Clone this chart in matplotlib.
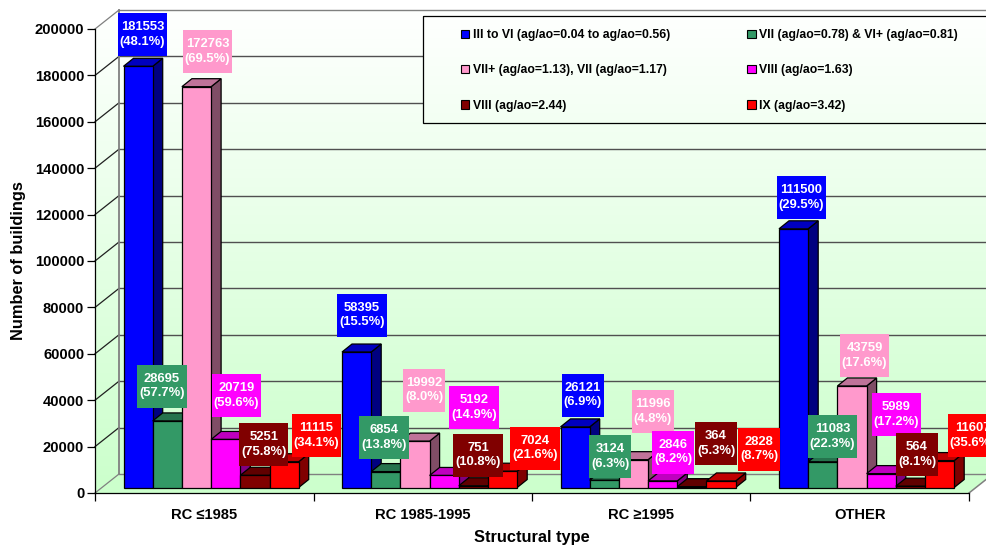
import matplotlib

matplotlib.use("Agg")
import matplotlib.pyplot as plt
import numpy as np
from matplotlib.colors import LinearSegmentedColormap, to_rgb
from matplotlib.patches import Patch, Polygon, Rectangle
from matplotlib.transforms import Affine2D, IdentityTransform

plt.rcParams["font.family"] = ["Liberation Sans", "DejaVu Sans"]
plt.rcParams["font.weight"] = "bold"

categories = ["RC ≤1985", "RC 1985-1995", "RC ≥1995", "OTHER"]
series_names = [
    "III to VI (ag/ao=0.04 to ag/ao=0.56)",
    "VII (ag/ao=0.78) & VI+ (ag/ao=0.81)",
    "VII+ (ag/ao=1.13), VII (ag/ao=1.17)",
    "VIII (ag/ao=1.63)",
    "VIII (ag/ao=2.44)",
    "IX (ag/ao=3.42)",
]
colors = ["#0000FF", "#339966", "#FF99CC", "#FF00FF", "#800000", "#FF0000"]

counts_3_6 = [181553, 58395, 26121, 111500]
counts_7 = [28695, 6854, 3124, 11083]
counts_7p = [172763, 19992, 11996, 43759]
counts_8a = [20719, 5192, 2846, 5989]
counts_8b = [5251, 751, 364, 564]
counts_9 = [11115, 7024, 2828, 11607]
counts = [counts_3_6, counts_7, counts_7p, counts_8a, counts_8b, counts_9]

pct_3_6 = [48.1, 15.5, 6.9, 29.5]
pct_7 = [57.7, 13.8, 6.3, 22.3]
pct_7p = [69.5, 8.0, 4.8, 17.6]
pct_8a = [59.6, 14.9, 8.2, 17.2]
pct_8b = [75.8, 10.8, 5.3, 8.1]
pct_9 = [34.1, 21.6, 8.7, 35.6]
pcts = [pct_3_6, pct_7, pct_7p, pct_8a, pct_8b, pct_9]

# label box centres in image pixels, one row per series
label_pos = [
    [(142.5, 34.5), (362, 315), (583, 395), (801.5, 197.5)],
    [(162, 386), (384, 437.5), (610, 456.5), (832.5, 436.5)],
    [(207.5, 51.5), (424, 390), (653, 411.5), (864.5, 355.5)],
    [(236.5, 395.5), (474, 407.5), (673, 452), (896.5, 414.5)],
    [(263.7, 444.5), (478, 455), (716, 443.5), (917, 454.5)],
    [(316.5, 435.5), (535, 448), (759, 449), (972.5, 435.5)],
]

W, H = 987, 549
LEFT, RIGHT, TOP, BOTTOM = 95, 969, 29, 493
WALL_DX, WALL_DY = 24, 19
BAR_SHIFT = (7, 5.5)
BAR_DX, BAR_DY = 10, 8
BAR_W = 29.2 / 218.5
BAR_MARGIN = 21.5 / 218.5

fig = plt.figure(figsize=(W / 100, H / 100), dpi=100)

# pixel coordinates of the image, y going down
px = Affine2D().scale(1, -1).translate(0, H)

bg = fig.add_axes([0, 0, 1, 1], zorder=0)
bg.set_xlim(0, W)
bg.set_ylim(H, 0)
bg.axis("off")

ax = fig.add_axes(
    [LEFT / W, (H - BOTTOM) / H, (RIGHT - LEFT) / W, (BOTTOM - TOP) / H], zorder=1
)
ax.patch.set_visible(False)
ax.set_xlim(0, 4)
ax.set_ylim(0, 200000)


def to_disp(x, y, dx=0, dy=0):
    p = ax.transData.transform((x, y))
    return (p[0] + dx, p[1] + dy)


# walls and floor share one vertical gradient
green = LinearSegmentedColormap.from_list("wall", ["#FFFFFF", "#CCFFCC"])
grad = np.linspace(0, 1, 256).reshape(-1, 1)
wall_top = TOP - WALL_DY
wall_bot = BOTTOM - WALL_DY
grad_extent = (0, W, BOTTOM - 8, wall_top)


def gradient_patch(patch, z):
    bg.add_patch(patch)
    im = bg.imshow(grad, cmap=green, extent=grad_extent, aspect="auto", zorder=z)
    im.set_clip_path(patch)


right_back = RIGHT + WALL_DX
wall = Polygon(
    [
        (LEFT, TOP),
        (LEFT + WALL_DX, wall_top),
        (right_back, wall_top),
        (right_back, wall_bot),
        (LEFT + WALL_DX, wall_bot),
        (LEFT, BOTTOM),
    ],
    fc="none",
    ec="none",
)
gradient_patch(wall, 1)
bg.add_patch(
    Polygon(
        [(LEFT, BOTTOM), (LEFT + WALL_DX, wall_bot), (right_back, wall_bot), (RIGHT, BOTTOM)],
        fc="#CCFFCC",
        ec="none",
        zorder=1.5,
    )
)
bg.add_patch(
    Polygon(
        [(LEFT, BOTTOM - 8), (LEFT + WALL_DX, BOTTOM - 8), (LEFT + WALL_DX, wall_bot), (LEFT, BOTTOM)],
        fc="#CCFFCC",
        ec="none",
        zorder=1.5,
    )
)
bg.set_xlim(0, W)
bg.set_ylim(H, 0)

# gridlines: back wall plus the diagonal on the side wall
for t in np.arange(0, 200001, 20000):
    y = BOTTOM - (BOTTOM - TOP) * t / 200000
    edge = t in (0, 200000)
    c = "#808080" if edge else "#505050"
    bg.plot([LEFT + WALL_DX, right_back], [y - WALL_DY] * 2, c=c, lw=1.0, zorder=2)
    bg.plot(
        [LEFT, LEFT + WALL_DX],
        [y, y - WALL_DY],
        c="#808080" if edge else "#202020",
        lw=0.9,
        zorder=2,
    )
bg.plot([LEFT + WALL_DX] * 2, [wall_top, wall_bot], c="#808080", lw=1.3, zorder=2)
bg.plot([RIGHT, right_back], [BOTTOM, wall_bot], c="#808080", lw=1.1, zorder=2)

# legend box
box = Rectangle((423, 15.5), W, 107.5, fc="none", ec="none")
bg.add_patch(box)
im = bg.imshow(grad, cmap=green, extent=grad_extent, aspect="auto", zorder=3)
im.set_clip_path(box)
bg.add_patch(Rectangle((423, 15.5), W, 107.5, fc="none", ec="k", lw=0.9, zorder=3.5))
bg.set_xlim(0, W)
bg.set_ylim(H, 0)

# bars: side and top faces first, so the next bar's front covers them
identity = IdentityTransform()
shift = ax.transData + Affine2D().translate(*BAR_SHIFT)
sx, sy = BAR_SHIFT
for i in range(len(categories)):
    for j, vals in enumerate(counts):
        x0 = i + BAR_MARGIN + j * BAR_W
        x1 = x0 + BAR_W
        v = vals[i]
        c = np.array(to_rgb(colors[j]))
        z = 2 + j * 0.1
        side = [
            to_disp(x1, 0, sx, sy),
            to_disp(x1, 0, sx + BAR_DX, sy + BAR_DY),
            to_disp(x1, v, sx + BAR_DX, sy + BAR_DY),
            to_disp(x1, v, sx, sy),
        ]
        top = [
            to_disp(x0, v, sx, sy),
            to_disp(x0, v, sx + BAR_DX, sy + BAR_DY),
            to_disp(x1, v, sx + BAR_DX, sy + BAR_DY),
            to_disp(x1, v, sx, sy),
        ]
        ax.add_patch(
            Polygon(side, fc=c * 0.5, ec="k", lw=0.9, transform=identity, clip_on=False, zorder=z)
        )
        ax.add_patch(
            Polygon(top, fc=c * 0.75, ec="k", lw=0.9, transform=identity, clip_on=False, zorder=z)
        )
        ax.bar(
            x0,
            v,
            BAR_W,
            align="edge",
            color=colors[j],
            edgecolor="k",
            linewidth=0.9,
            transform=shift,
            clip_on=False,
            zorder=z + 0.01,
        )

ax.set_xlim(0, 4)
ax.set_ylim(0, 200000)

# axes
ax.spines[["top", "right"]].set_visible(False)
ax.spines[["left", "bottom"]].set_linewidth(0.9)
ax.set_yticks(np.arange(0, 200001, 20000))
ax.tick_params(axis="y", length=5.8, width=0.9, labelsize=10.6, pad=2)
ax.set_xticks(range(5))
ax.set_xticklabels([])
ax.tick_params(axis="x", which="major", length=5.5, width=0.9)
ax.set_xticks(np.arange(4) + 0.5, categories, minor=True)
ax.tick_params(axis="x", which="minor", length=0, labelsize=10.6, pad=11)
ax.set_xlabel("Structural type", fontsize=11.8, fontweight="bold", labelpad=5.5)
ax.set_ylabel("Number of buildings", fontsize=11.8, fontweight="bold", labelpad=6)

# legend, column by column
order = [0, 2, 4, 1, 3, 5]
handles = [Patch(fc=colors[k], ec="k", lw=0.8) for k in order]
ax.legend(
    handles,
    [series_names[k] for k in order],
    ncol=2,
    loc="upper left",
    bbox_to_anchor=(461, 29),
    bbox_transform=px,
    frameon=False,
    fontsize=8.85,
    borderpad=0,
    borderaxespad=0,
    handlelength=0.66,
    handleheight=0.66,
    handletextpad=0.3,
    labelspacing=1.9,
    columnspacing=6.3,
)

# data labels: the box height is fixed, its width follows the text
renderer = fig.canvas.get_renderer()
for j, vals in enumerate(counts):
    for i, v in enumerate(vals):
        cx, cy = label_pos[j][i]
        t = ax.text(
            cx,
            cy,
            f"{v}\n({pcts[j][i]:.1f}%)",
            transform=px,
            ha="center",
            va="center",
            ma="center",
            color="white",
            fontsize=9.4,
            linespacing=1.32,
            clip_on=False,
            zorder=11,
        )
        w = t.get_window_extent(renderer).width + 4
        ax.add_patch(
            Rectangle(
                (cx - w / 2, cy - 21.5),
                w,
                43,
                fc=colors[j],
                ec="none",
                transform=px,
                clip_on=False,
                zorder=10,
            )
        )

fig.savefig("out.png", dpi=100)
